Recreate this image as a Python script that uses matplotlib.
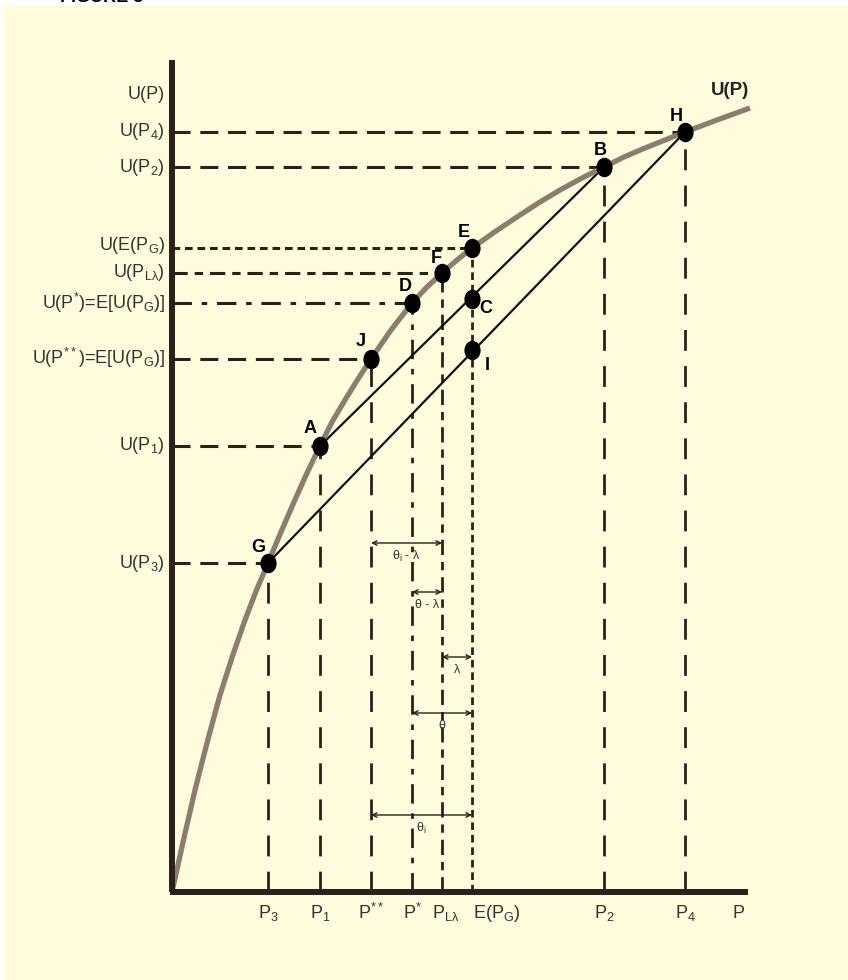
import matplotlib
matplotlib.use("Agg")
import matplotlib.pyplot as plt
from matplotlib.patches import Rectangle
from matplotlib.markers import MarkerStyle
from matplotlib.transforms import Affine2D

plt.rcParams['font.family'] = ['Liberation Sans', 'DejaVu Sans']
plt.rcParams['mathtext.fontset'] = 'custom'
plt.rcParams['mathtext.rm'] = 'Liberation Sans'
plt.rcParams['mathtext.default'] = 'regular'
plt.rcParams['lines.scale_dashes'] = False

# ---- utility curve U(P) ----
curve_p = [0.0, 1.15, 2.3, 3.55, 4.8, 6.05, 7.3, 8.45, 9.6, 10.9, 12.2, 13.5, 14.8,
           16.0, 17.3, 18.6, 19.9, 21.9, 24.0, 25.5, 27.0, 28.5, 30.0, 32.4, 34.8,
           36.8, 38.8, 41.0, 43.2, 45.2, 47.3, 49.3, 51.3, 54.5, 57.8]
curve_u = [0.0, 5.2, 10.2, 15.1, 19.7, 23.6, 27.2, 30.2, 32.9, 36.0, 39.0, 41.9, 44.6,
           47.0, 49.2, 51.3, 53.3, 56.2, 58.9, 60.5, 61.9, 63.2, 64.4, 66.1, 67.7,
           69.0, 70.2, 71.4, 72.5, 73.5, 74.4, 75.2, 76.0, 77.2, 78.4]

# ---- named points ----
point_names = ['G', 'A', 'J', 'D', 'F', 'E', 'C', 'I', 'B', 'H']
point_p = [9.6, 14.8, 19.9, 24.0, 27.0, 30.0, 30.0, 30.0, 43.2, 51.3]
point_u = [32.9, 44.6, 53.3, 58.9, 61.9, 64.4, 59.3, 54.2, 72.5, 76.0]

# chords between lotteries
chord_ab = ['A', 'B']
chord_gh = ['G', 'H']

# ---- axis labels ----
x_tick_labels = ['P$_3$', 'P$_1$', 'P$^{**}$', 'P$^{*}$', 'P$_{Lλ}$', 'E(P$_G$)', 'P$_2$', 'P$_4$', 'P']
x_tick_pos = [9.6, 14.8, 19.9, 24.0, 27.4, 32.5, 43.2, 51.3, 56.6]

y_tick_labels = ['U(P)', 'U(P$_4$)', 'U(P$_2$)', 'U(E(P$_G$)', 'U(P$_{Lλ}$)',
                 'U(P$^{*}$)=E[U(P$_G$)]', 'U(P$^{**}$)=E[U(P$_G$)]', 'U(P$_1$)', 'U(P$_3$)']
y_tick_pos = [79.8, 76.1, 72.5, 64.7, 62.0, 58.9, 53.4, 44.7, 32.9]

# ---- interval arrows ----
arrow_labels = ['θ$_i$ - λ', 'θ - λ', 'λ', 'θ', 'θ$_i$']
arrow_start = [19.9, 24.0, 27.0, 24.0, 19.9]
arrow_end = [27.0, 27.0, 30.0, 30.0, 30.0]
arrow_u = [34.9, 30.0, 23.5, 17.9, 7.7]

DARK = '#2b211c'
CURVE = '#8c7d6e'
BG = '#fffbdc'

fig = plt.figure(figsize=(8.48, 9.8), dpi=100, facecolor='white')
ax = fig.add_axes([0, 0, 1, 1])
ax.set_xlim(-17.2, 67.6)
ax.set_ylim(-8.8, 89.2)
ax.axis('off')

# panel background and clipped caption above it
fig.text(60 / 848, 1 - 6 / 980, 'FIGURE 3', ha='left', va='bottom',
         fontsize=13, fontweight='bold', color='black')
ax.add_patch(Rectangle((4 / 848, 0), 1, 1 - 5 / 980, transform=ax.transAxes,
                       facecolor=BG, edgecolor='none', zorder=0))

pts = dict(zip(point_names, zip(point_p, point_u)))

long_dash = (0, (13, 7))
v_dash = (0, (15, 11))
dotted = (0, (5.5, 3.5))
dash_dot = (0, (14, 7, 4, 7))
dash_dot_dot = (0, (11, 5, 6, 5))

# horizontal guides to the utility axis
h_guides = [('H', long_dash), ('B', long_dash), ('E', dotted), ('F', dash_dot_dot),
            ('D', dash_dot), ('J', long_dash), ('A', long_dash), ('G', long_dash)]
for name, ls in h_guides:
    p, u = pts[name]
    ax.plot([0, p], [u, u], color=DARK, lw=2.2, ls=ls, zorder=2)

# vertical guides to the outcome axis
v_guides = [('G', v_dash), ('A', v_dash), ('J', v_dash), ('D', dash_dot),
            ('F', dash_dot_dot), ('E', dotted), ('B', v_dash), ('H', v_dash)]
for name, ls in v_guides:
    p, u = pts[name]
    ax.plot([p, p], [0, u], color=DARK, lw=2.0, ls=ls, zorder=2)

# chords
for a, b in (chord_ab, chord_gh):
    ax.plot([pts[a][0], pts[b][0]], [pts[a][1], pts[b][1]], color='#111111', lw=1.6, zorder=3)

# utility curve
ax.plot(curve_p, curve_u, color=CURVE, lw=3.8, solid_capstyle='butt',
        solid_joinstyle='round', zorder=4)

# axes
ax.plot([0, 0], [0, 83.2], color=DARK, lw=4.3, solid_capstyle='butt', zorder=5)
ax.plot([-0.2, 57.6], [0, 0], color=DARK, lw=4.3, solid_capstyle='butt', zorder=5)

# points (slightly tall ellipses)
dot = MarkerStyle('o', transform=Affine2D().scale(0.82, 1.0))
ax.plot(point_p, point_u, ls='none', marker=dot, color='black', ms=13, zorder=6)

label_offsets = {'G': (-1.0, 1.6), 'A': (-1.0, 1.8), 'J': (-1.0, 1.8), 'D': (-0.7, 1.7),
                 'F': (-0.6, 1.5), 'E': (-0.8, 1.6), 'C': (1.4, -0.9), 'I': (1.5, -1.5),
                 'B': (-0.4, 1.7), 'H': (-0.9, 1.6)}
for name in point_names:
    p, u = pts[name]
    dx, dy = label_offsets[name]
    ax.text(p + dx, u + dy, name, ha='center', va='center', fontsize=13,
            fontweight='bold', color='black', zorder=7)

ax.text(55.8, 80.2, 'U(P)', ha='center', va='center', fontsize=13.5,
        fontweight='bold', color='#222222')

for lab, y in zip(y_tick_labels, y_tick_pos):
    ax.text(-0.7, y, lab, ha='right', va='center', fontsize=13, color='#333333')

for lab, x in zip(x_tick_labels, x_tick_pos):
    ax.text(x, -2.1, lab, ha='center', va='center', fontsize=13, color='#333333')

for lab, x0, x1, y in zip(arrow_labels, arrow_start, arrow_end, arrow_u):
    ax.annotate('', xy=(x1, y), xytext=(x0, y),
                arrowprops=dict(arrowstyle='<->', color='#222222', lw=1.0,
                                shrinkA=0, shrinkB=0, mutation_scale=8), zorder=6)
    ax.text((x0 + x1) / 2, y - 1.3, lab, ha='center', va='center',
            fontsize=9, color='#333333')

fig.savefig('out.png', dpi=100, facecolor='white')
